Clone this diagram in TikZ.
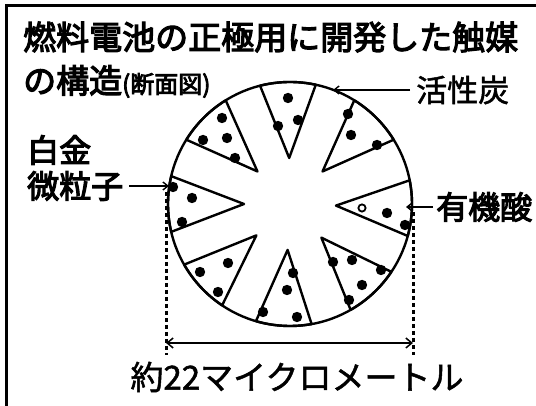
\documentclass[tikz,border=0pt]{standalone}
\usepackage{fontspec}
\newfontfamily\jp{Noto Sans CJK JP}
\newfontfamily\jpb[FakeBold=3.5]{Noto Sans CJK JP}
\newfontfamily\jpm[FakeBold=1.5]{Noto Sans CJK JP}
\usetikzlibrary{arrows.meta}
\begin{document}
\begin{tikzpicture}[x=1pt,y=1pt,
  outline/.style={line width=2.4pt, line join=round},
  pdot/.style={fill=black},
  lead/.style={line width=1.8pt, -{Straight Barb[length=5pt,width=8pt,line width=1.4pt]}},
  guide/.style={line width=3pt, dash pattern=on 4pt off 3pt},
  dimline/.style={line width=1.8pt, {Straight Barb[length=6pt,width=10pt,line width=1.5pt]}-{Straight Barb[length=6pt,width=10pt,line width=1.5pt]}},
  lbl/.style={inner sep=0pt, anchor=west, font=\jpb\fontsize{32}{32}\selectfont},
  title/.style={inner sep=0pt, anchor=west, font=\jpb\fontsize{33}{33}\selectfont},
]
\useasboundingbox (0,0) rectangle (536,406);

% frame (left and top edges)
\draw[line width=3pt] (6.5,0) -- (6.5,400.5) -- (536,400.5);

% heading
\node[title] (t1) at (23,369) {燃料電池の正極用に開発した触媒};
\node[title, anchor=base west] (t2) at (23,313) {の構造{\fontsize{24}{24}\selectfont (断面図)}};

% cross-section: eight catalyst wedges between the carbon arms
\begin{scope}[shift={(290,202)}]
  \foreach \t in {91,45,-2,-47,-93,-137,180,135}
    \draw[outline] (\t:46) -- ({\t+13.2}:122)
      arc[start angle={\t+13.2}, end angle={\t-13.2}, radius=122] -- cycle;
\end{scope}
\node[draw, circle, outline, minimum size=244pt, inner sep=0pt] (disk) at (290,202) {};

% platinum particles
\foreach \p in {(288,308),(298,286),(278,280),
                (348,292),(351,271),(377,261),
                (222,288),(203,266),(227,268),(235,248),
                (173,219),(192,208),(182,184),
                (387,193),(405,181),
                (333,144),(352,146),(381,136),(362,121),(349,106),
                (293,133),(287,116),(263,94),(297,89),
                (200,134),(228,143),(218,114)}
  \fill[pdot] \p circle[radius=5.2];
\draw[line width=1.8pt] (362,198) circle[radius=3.6];

% labels with leaders
\node[lbl, font=\jpm\fontsize{31}{31}\selectfont] (act) at (416,316) {活性炭};
\coordinate (actTip) at (333,316);
\draw[lead] (act.west) ++(-6,0) -- (actTip);

\node[lbl] (pt1) at (27,256) {白金};
\node[lbl] (pt2) at (27,220) {微粒子};
\coordinate (ptTip) at (169,220);
\draw[lead] (pt2.east) ++(6,0) -- (ptTip);

\node[lbl] (acid) at (436,199) {有機酸};
\coordinate (acidTip) at (406,199);
\draw[lead] (acid.west) ++(-3,0) -- (acidTip);

% size indication
\coordinate (gl1) at (166,214);
\coordinate (gl2) at (413,194);
\coordinate (gb1) at (166,51);
\coordinate (gb2) at (413,51);
\draw[guide] (gl1) -- (gb1);
\draw[guide] (gl2) -- (gb2);
\coordinate (d1) at (166,63);
\coordinate (d2) at (413,63);
\draw[dimline] (d1) -- (d2);
\node[inner sep=0pt, font=\jpm\fontsize{33}{33}\selectfont] (size) at (297,29) {約22マイクロメートル};
\end{tikzpicture}
\end{document}
